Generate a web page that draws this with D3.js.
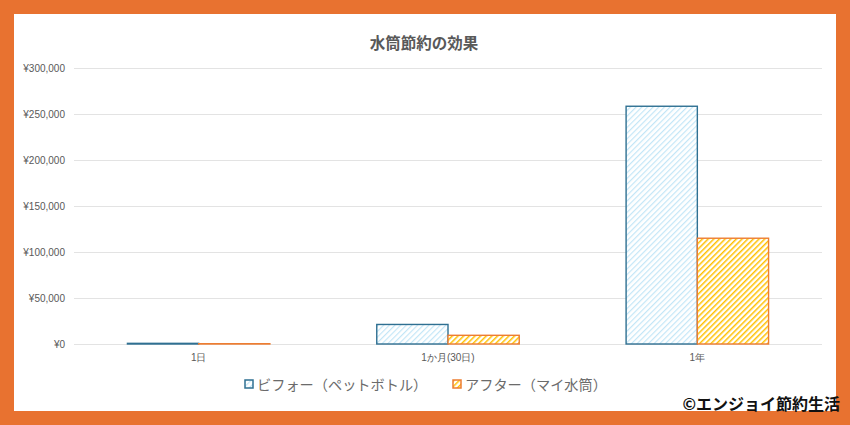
<!DOCTYPE html>
<html>
<head>
<meta charset="utf-8">
<script src="https://cdn.jsdelivr.net/npm/d3@7"></script>
<style>
  html, body { margin: 0; padding: 0; background: #E87230; }
  svg { display: block; font-family: "Noto Sans CJK JP", "Noto Sans", sans-serif; }
</style>
</head>
<body>
<svg id="chart"></svg>
<script>
// data
var categories = ['1日', '1か月(30日)', '1年'];
var seriesNames = ['ビフォー（ペットボトル）', 'アフター（マイ水筒）'];
var beforeValues = [708, 21240, 258420];
var afterValues = [315, 9450, 114975];
var yTicks = [0, 50000, 100000, 150000, 200000, 250000, 300000];

var W = 850, H = 425;
var margin = {left: 74, right: 28, top: 68, bottom: 81};

var svg = d3.select('#chart')
    .attr('width', W)
    .attr('height', H);

var defs = svg.append('defs');

// diagonal hatch fills
function hatch(id, color, width) {
    var p = defs.append('pattern')
        .attr('id', id)
        .attr('patternUnits', 'userSpaceOnUse')
        .attr('width', 4)
        .attr('height', 4)
        .attr('patternTransform', 'rotate(45)');
    p.append('rect')
        .attr('width', 4)
        .attr('height', 4)
        .attr('fill', '#ffffff');
    p.append('line')
        .attr('x1', 0).attr('y1', 0)
        .attr('x2', 0).attr('y2', 4)
        .attr('stroke', color)
        .attr('stroke-width', width);
}
hatch('hatchBlue', '#C3E6F7', 2.4);
hatch('hatchOrange', '#FFC000', 3);

var seriesStyle = [
    {fill: 'url(#hatchBlue)', stroke: '#2F7092'},
    {fill: 'url(#hatchOrange)', stroke: '#ED7D31'}
];

// white panel
svg.append('rect')
    .attr('x', 14)
    .attr('y', 14)
    .attr('width', 822)
    .attr('height', 397)
    .attr('fill', '#ffffff');

var x = d3.scaleBand()
    .domain(categories)
    .range([margin.left, W - margin.right]);

var xInner = d3.scaleBand()
    .domain([0, 1])
    .range([0, x.bandwidth()])
    .paddingInner(0)
    .paddingOuter(0.75);

var y = d3.scaleLinear()
    .domain([0, 300000])
    .range([H - margin.bottom, margin.top]);

// gridlines
svg.append('g')
    .attr('class', 'grid')
    .selectAll('line')
    .data(yTicks)
    .join('line')
    .attr('x1', margin.left)
    .attr('x2', W - margin.right)
    .attr('y1', function(d) {return Math.round(y(d)) + 0.5;})
    .attr('y2', function(d) {return Math.round(y(d)) + 0.5;})
    .attr('stroke', '#E3E3E3')
    .attr('stroke-width', 1);

// y axis labels
var yAxis = d3.axisLeft(y)
    .tickValues(yTicks)
    .tickSize(0)
    .tickPadding(9)
    .tickFormat(function(d) {return '¥' + d3.format(',')(d);});

svg.append('g')
    .attr('transform', 'translate(' + margin.left + ',0)')
    .call(yAxis)
    .call(function(g) {g.select('.domain').remove();})
    .selectAll('text')
    .attr('font-size', '10px')
    .attr('fill', '#595959')
    .attr('font-family', '"Liberation Sans", Arial, sans-serif');

// x axis labels
var xAxis = d3.axisBottom(x)
    .tickSize(0)
    .tickPadding(10);

svg.append('g')
    .attr('transform', 'translate(0,' + (H - margin.bottom) + ')')
    .call(xAxis)
    .call(function(g) {g.select('.domain').remove();})
    .selectAll('text')
    .attr('font-size', '10px')
    .attr('fill', '#595959');

// bars
var rows = categories.map(function(c, i) {
    return {cat: c, vals: [beforeValues[i], afterValues[i]]};
});

var groups = svg.append('g')
    .attr('class', 'bars')
    .selectAll('g')
    .data(rows)
    .join('g')
    .attr('transform', function(d) {return 'translate(' + x(d.cat) + ',0)';});

groups.selectAll('rect')
    .data(function(d) {return d.vals.map(function(v, k) {return {k: k, v: v};});})
    .join('rect')
    .attr('x', function(d) {return xInner(d.k);})
    .attr('width', xInner.bandwidth())
    .attr('y', function(d) {return y(d.v);})
    .attr('height', function(d) {return y(0) - y(d.v);})
    .attr('fill', function(d) {return seriesStyle[d.k].fill;})
    .attr('stroke', function(d) {return seriesStyle[d.k].stroke;})
    .attr('stroke-width', 1.4);

// title
svg.append('text')
    .attr('x', 424)
    .attr('y', 49)
    .attr('text-anchor', 'middle')
    .attr('font-size', '15.5px')
    .attr('font-weight', 'bold')
    .attr('fill', '#595959')
    .text('水筒節約の効果');

// legend
var legendX = [245, 453];
var legend = svg.append('g')
    .attr('class', 'legend')
    .selectAll('g')
    .data(seriesNames)
    .join('g')
    .attr('transform', function(d, i) {return 'translate(' + legendX[i] + ',380)';});

legend.append('rect')
    .attr('width', 8)
    .attr('height', 8)
    .attr('fill', function(d, i) {return seriesStyle[i].fill;})
    .attr('stroke', function(d, i) {return seriesStyle[i].stroke;})
    .attr('stroke-width', 1.5);

legend.append('text')
    .attr('x', 12)
    .attr('y', 9.5)
    .attr('font-size', '14.2px')
    .attr('fill', '#6b6b6b')
    .text(function(d) {return d;});

// credit in the corner, on a white patch
var creditBg = svg.append('rect')
    .attr('fill', '#ffffff');

var credit = svg.append('text')
    .attr('x', 840)
    .attr('y', 410)
    .attr('text-anchor', 'end')
    .attr('font-size', '16px')
    .attr('font-weight', 'bold')
    .attr('fill', '#111111')
    .text('©エンジョイ節約生活');

var bb = credit.node().getBBox();
creditBg
    .attr('x', bb.x - 4)
    .attr('y', bb.y + 2)
    .attr('width', 836 - bb.x + 4)
    .attr('height', 411 - bb.y - 2);
</script>
</body>
</html>
